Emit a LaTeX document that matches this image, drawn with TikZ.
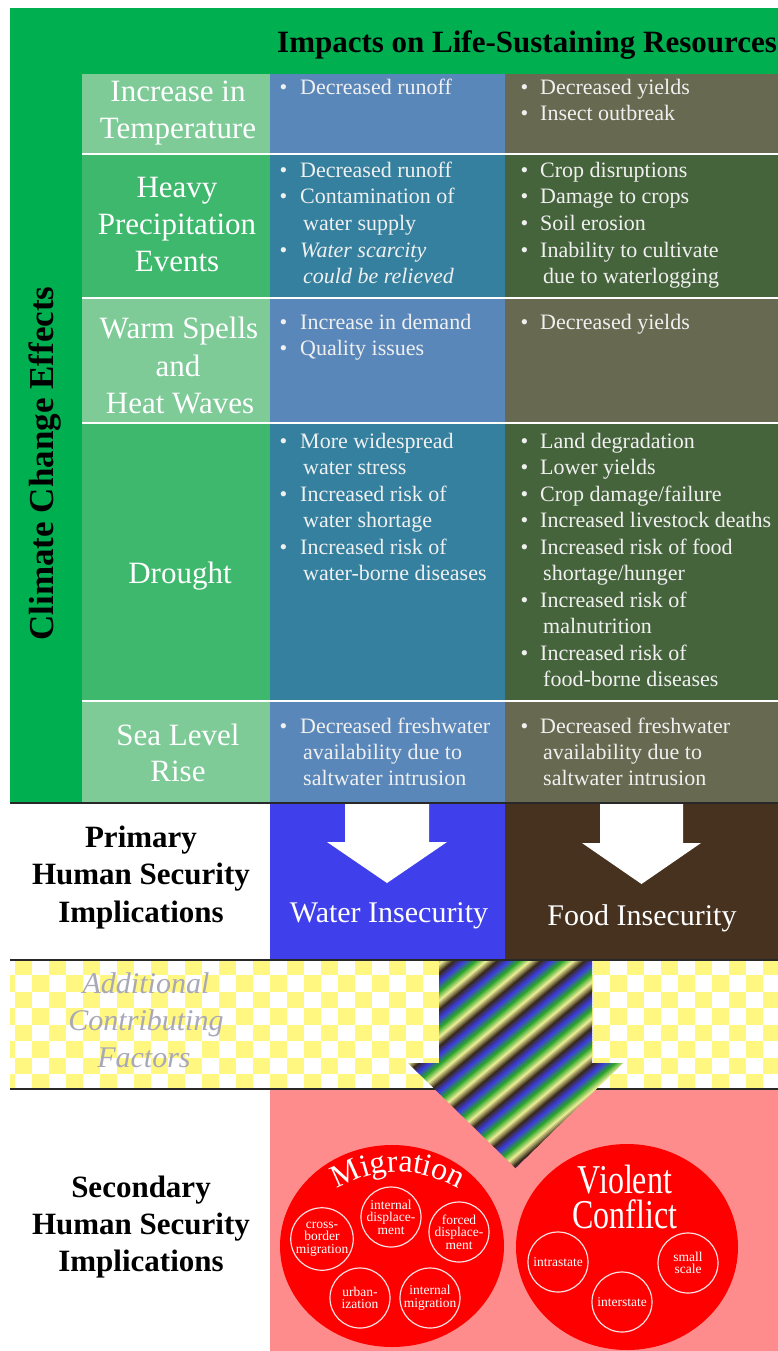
\documentclass[tikz,border=0pt]{standalone}
\usepackage{fontspec}
\setmainfont{Liberation Serif}
\usepackage{graphicx}
\usetikzlibrary{decorations.text,calc}
\definecolor{cgreen}{RGB}{0,176,80}
\definecolor{labA}{RGB}{126,203,152}
\definecolor{labB}{RGB}{62,184,108}
\definecolor{watA}{RGB}{90,135,185}
\definecolor{watB}{RGB}{52,128,158}
\definecolor{fooA}{RGB}{103,106,80}
\definecolor{fooB}{RGB}{70,100,60}
\definecolor{wblue}{RGB}{63,63,235}
\definecolor{fbrown}{RGB}{70,50,31}
\definecolor{chk}{RGB}{255,247,128}
\definecolor{pinkbg}{RGB}{255,140,140}
\definecolor{addgray}{RGB}{168,168,182}
\definecolor{sb}{RGB}{60,60,225}
\definecolor{sg}{RGB}{40,165,40}
\definecolor{sy}{RGB}{238,238,150}
\definecolor{sd}{RGB}{55,40,25}
\definecolor{sepline}{RGB}{40,40,40}
\newcommand\fsz[1]{\fontsize{#1}{#1}\selectfont}
\newcounter{nn}
\newcommand\bl[4]{\stepcounter{nn}\node[bul] (b\thenn) at (#1,#3) {\textbullet};\node[bul] (t\thenn) at (#2,#3) {#4};}
\newcommand\cl[3]{\stepcounter{nn}\node[bul] (c\thenn) at (#1,#2) {#3};}
\newcommand\wbul[2]{\bl{279.5}{300}{#1}{#2}}
\newcommand\wcon[2]{\cl{303}{#1}{#2}}
\newcommand\fbul[2]{\bl{520.5}{540}{#1}{#2}}
\newcommand\fcon[2]{\cl{543}{#1}{#2}}
\tikzset{
  lab/.style={text=white, font=\fsz{31}, anchor=base, inner sep=0},
  bul/.style={text=white!94!black, font=\fsz{22}, anchor=base west, inner sep=0},
  hd/.style={text=black, font=\bfseries\fsz{31}, anchor=base, inner sep=0},
  sm/.style={circle, draw=white!88!red, line width=1.2pt, minimum size=60pt, inner sep=0pt, align=center, text=white, font=\fontsize{13.5}{12.5}\selectfont},
  sepw/.style={white, line width=1.8pt},
  sepd/.style={sepline, line width=2pt},
  addtxt/.style={text=addgray, font=\itshape\fsz{30}, anchor=base, inner sep=0},
  big/.style={text=white, font=\fsz{32}, inner sep=0}
}
\begin{document}
\begin{tikzpicture}[x=1pt,y=-1pt]
\useasboundingbox (0,0) rectangle (778,1351);
\fill[white] (0,0) rectangle (778,1351);
% ---------- top green block ----------
\fill[cgreen] (10,8) rectangle (778,802);
\node[hd, anchor=base west] (title) at (277,53) {Impacts on Life-Sustaining Resources};
\node[hd, font=\bfseries\fsz{35}, rotate=90] (cce) at (53,463.5) {Climate Change Effects};
% rows
\fill[labA] (82,74) rectangle (270,154);
\fill[watA] (270,74) rectangle (505,154);
\fill[fooA] (505,74) rectangle (778,154);
\fill[labB] (82,154) rectangle (270,298);
\fill[watB] (270,154) rectangle (505,298);
\fill[fooB] (505,154) rectangle (778,298);
\fill[labA] (82,298) rectangle (270,423);
\fill[watA] (270,298) rectangle (505,423);
\fill[fooA] (505,298) rectangle (778,423);
\fill[labB] (82,423) rectangle (270,701);
\fill[watB] (270,423) rectangle (505,701);
\fill[fooB] (505,423) rectangle (778,701);
\fill[labA] (82,701) rectangle (270,802);
\fill[watA] (270,701) rectangle (505,802);
\fill[fooA] (505,701) rectangle (778,802);
\foreach \yy in {154,298,423,701} \draw[sepw] (82,\yy) -- (778,\yy);
% row labels
\node[lab] (r1a) at (178,102) {Increase in};
\node[lab] (r1b) at (178,139) {Temperature};
\node[lab] (r2a) at (177,197) {Heavy};
\node[lab] (r2b) at (177,234) {Precipitation};
\node[lab] (r2c) at (177,271) {Events};
\node[lab] (r3a) at (179,338) {Warm Spells};
\node[lab] (r3b) at (178,376) {and};
\node[lab] (r3c) at (180,413) {Heat Waves};
\node[lab] (r4a) at (180,583) {Drought};
\node[lab] (r5a) at (178,745) {Sea Level};
\node[lab] (r5b) at (178,781) {Rise};
% water column
\wbul{95}{Decreased runoff}
\wbul{178}{Decreased runoff}
\wbul{204}{Contamination of}
\wcon{230.5}{water supply}
\wbul{257}{\itshape Water scarcity}
\wcon{283}{\itshape could be relieved}
\wbul{329}{Increase in demand}
\wbul{355}{Quality issues}
\wbul{448}{More widespread}
\wcon{474.5}{water stress}
\wbul{501}{Increased risk of}
\wcon{527.5}{water shortage}
\wbul{554}{Increased risk of}
\wcon{580.5}{water-borne diseases}
\wbul{733}{Decreased freshwater}
\wcon{759}{availability due to}
\wcon{785}{saltwater intrusion}
% food column
\fbul{95}{Decreased yields}
\fbul{121}{Insect outbreak}
\fbul{178}{Crop disruptions}
\fbul{204}{Damage to crops}
\fbul{230.5}{Soil erosion}
\fbul{257}{Inability to cultivate}
\fcon{283}{due to waterlogging}
\fbul{329}{Decreased yields}
\fbul{448}{Land degradation}
\fbul{474.5}{Lower yields}
\fbul{501}{Crop damage/failure}
\fbul{527.5}{Increased livestock deaths}
\fbul{554}{Increased risk of food}
\fcon{580.5}{shortage/hunger}
\fbul{607}{Increased risk of}
\fcon{633.5}{malnutrition}
\fbul{660}{Increased risk of}
\fcon{686.5}{food-borne diseases}
\fbul{733}{Decreased freshwater}
\fcon{759}{availability due to}
\fcon{785}{saltwater intrusion}
% ---------- primary ----------
\fill[wblue] (270,804) rectangle (505,959);
\fill[fbrown] (505,804) rectangle (778,959);
\fill[white] (345,804) -- (429,804) -- (429,842) -- (447,842) -- (387,883) -- (327,842) -- (345,842) -- cycle;
\fill[white] (600,804) -- (683,804) -- (683,843) -- (701,843) -- (641.5,884) -- (582,843) -- (600,843) -- cycle;
\node[hd] (p1) at (141,847) {Primary};
\node[hd] (p2) at (141,884.5) {Human Security};
\node[hd] (p3) at (141,922) {Implications};
\node[lab, font=\fsz{30}] (wi) at (389,922) {Water Insecurity};
\node[lab, font=\fsz{30}] (fi) at (642,925) {Food Insecurity};
% ---------- additional ----------
\begin{scope}
\clip (10,960) rectangle (778,1088);
\foreach \i in {0,...,7} {
  \pgfmathsetmacro\xo{mod(\i,2)*17+15-34}
  \foreach \k in {0,...,24} {
    \fill[chk] ({\xo+34*\k},{958.5+16.5*\i}) rectangle +(17,16.5);
  }
}
\end{scope}
\node[addtxt] (a1) at (146,993) {Additional};
\node[addtxt] (a2) at (146,1030) {Contributing};
\node[addtxt] (a3) at (144,1067) {Factors};
% ---------- secondary ----------
\fill[pinkbg] (270,1090) rectangle (778,1351);
\node[hd] (s1) at (141,1197) {Secondary};
\node[hd] (s2) at (141,1234) {Human Security};
\node[hd] (s3) at (141,1271) {Implications};
\fill[red] (392,1246) ellipse [x radius=112pt, y radius=101pt];
\fill[red] (627,1247) ellipse [x radius=111pt, y radius=103pt];
\path[decorate, decoration={text along path, text={|\fsz{32}|Migration}, text align=center, text color=white}] (318,1202) .. controls (371.3,1162) and (424.7,1162) .. (478,1202);
\node[big, align=center, anchor=north, font=\fontsize{32}{35}\selectfont] (vc) at (625,1165) {\scalebox{1}[1.28]{Violent}\\\scalebox{1}[1.28]{Conflict}};
\node[sm] (m1) at (322,1239) {cross-\\border\\migration};
\node[sm] (m2) at (391,1217) {internal\\displace-\\ment};
\node[sm] (m3) at (459,1232) {forced\\displace-\\ment};
\node[sm] (m4) at (360,1298) {urban-\\ization};
\node[sm] (m5) at (430,1298) {internal\\migration};
\node[sm] (v1) at (558,1262) {intrastate};
\node[sm] (v2) at (622,1302) {interstate};
\node[sm] (v3) at (688,1263) {small\\scale};
% separator lines
\draw[sepd] (10,803) -- (778,803);
\draw[sepd] (10,1089) -- (778,1089);
% ---------- striped arrow ----------
\begin{scope}
\clip (439,961) -- (592,961) -- (592,1063) -- (623,1063) -- (515.5,1168) -- (408,1063) -- (439,1063) -- cycle;
\begin{scope}[shift={(515.5,1064)}, rotate=40]
\foreach \kk in {-7,...,7} {
  \foreach \ca/\cb [count=\s from 0] in {sb/sg, sg/sy, sy/sd, sd/sb} {
    \foreach \j in {0,...,5} {
      \pgfmathsetmacro\vv{(\kk*4+\s)*7+\j*7/6}
      \pgfmathtruncatemacro\pc{100-\j*100/6}
      \fill[\ca!\pc!\cb] (-220,\vv) rectangle (220,\vv+1.6);
    }
  }
}
\end{scope}
\end{scope}
\draw[sepd] (10,960) -- (778,960);
\end{tikzpicture}
\end{document}
